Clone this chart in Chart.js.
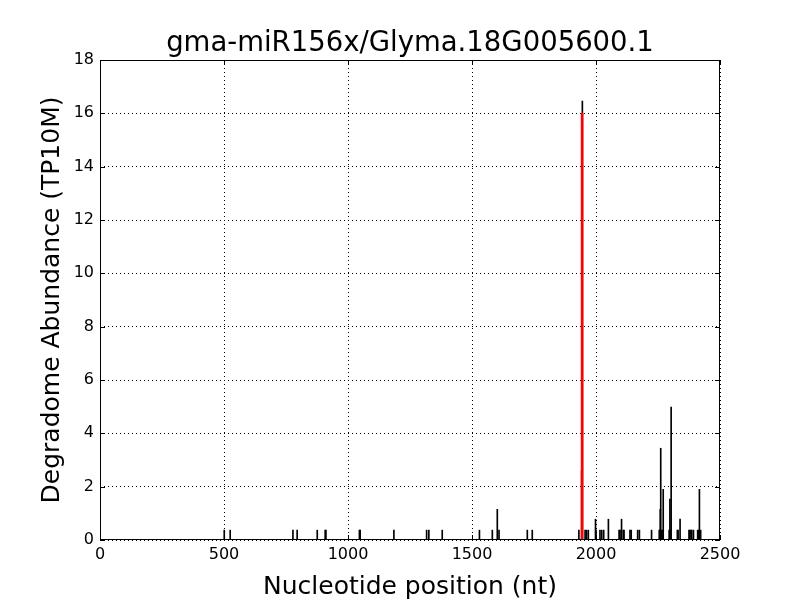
<!DOCTYPE html>
<html>
<head>
<meta charset="utf-8">
<script src="https://cdn.jsdelivr.net/npm/chart.js@4.4.1/dist/chart.umd.min.js"></script>
<style>
html,body{margin:0;padding:0;background:#fff;}
#wrap{width:800px;height:600px;}
</style>
</head>
<body>
<div id="wrap"><canvas id="c" width="800" height="600"></canvas></div>
<script>
// ---- data ----
const chartTitle = "gma-miR156x/Glyma.18G005600.1";
const xTitle = "Nucleotide position (nt)";
const yTitle = "Degradome Abundance (TP10M)";
const xTicks = [0, 500, 1000, 1500, 2000, 2500];
const yTicks = [0, 2, 4, 6, 8, 10, 12, 14, 16, 18];

// degradome reads (black)
const positions = [501, 525, 778, 795, 876, 908, 911, 1046, 1049, 1185, 1317, 1326, 1380, 1530, 1582, 1602, 1609, 1723, 1743,
  1931, 1942, 1945, 1956, 1962, 1969, 1998, 2000, 2016, 2023, 2031, 2050, 2093, 2097, 2103, 2110, 2113, 2137, 2142, 2168, 2175,
  2224, 2255, 2258, 2259, 2261, 2264, 2267, 2271, 2295, 2298, 2300, 2303, 2328, 2331, 2339, 2375, 2378, 2383, 2386, 2393,
  2410, 2413, 2417, 2422];
const values = [0.37, 0.37, 0.37, 0.37, 0.37, 0.37, 0.37, 0.37, 0.37, 0.37, 0.37, 0.37, 0.37, 0.37, 0.37, 1.15, 0.37, 0.37, 0.37,
  0.37, 2.6, 16.46, 0.37, 0.37, 0.37, 0.78, 0.37, 0.37, 0.37, 0.37, 0.78, 0.37, 0.37, 0.78, 0.37, 0.37, 0.37, 0.37, 0.37, 0.37,
  0.37, 0.37, 0.37, 1.15, 3.44, 0.37, 0.37, 1.9, 0.37, 1.53, 0.37, 4.98, 0.37, 0.37, 0.78, 0.37, 0.37, 0.37, 0.37, 0.37,
  0.37, 0.37, 1.9, 0.37];

// predicted cleavage site (red)
const sitePositions = [1944];
const siteValues = [16.0];

const FONT = "'DejaVu Sans', sans-serif";

const framePlugin = {
  id: 'frame',
  afterDatasetsDraw(chart) {
    const {ctx, chartArea: a, scales} = chart;
    ctx.save();
    ctx.strokeStyle = '#000';
    ctx.lineWidth = 1;
    ctx.setLineDash([]);
    ctx.strokeRect(Math.round(a.left) + 0.5, Math.round(a.top) + 0.5,
                   Math.round(a.right - a.left) - 1, Math.round(a.bottom - a.top) - 1);
    const L = 5;
    ctx.beginPath();
    xTicks.forEach(v => {
      const x = Math.round(scales.x.getPixelForValue(v)) + 0.5;
      ctx.moveTo(x, a.bottom); ctx.lineTo(x, a.bottom - L);
      ctx.moveTo(x, a.top); ctx.lineTo(x, a.top + L);
    });
    yTicks.forEach(v => {
      const y = Math.round(scales.y.getPixelForValue(v)) + 0.5;
      ctx.moveTo(a.left, y); ctx.lineTo(a.left + L, y);
      ctx.moveTo(a.right, y); ctx.lineTo(a.right - L, y);
    });
    ctx.stroke();
    // title
    ctx.fillStyle = '#000';
    ctx.font = "27.5px " + FONT;
    ctx.textAlign = 'center';
    ctx.textBaseline = 'middle';
    ctx.fillText(chartTitle, (a.left + a.right) / 2, 44);
    ctx.restore();
  }
};

new Chart(document.getElementById('c'), {
  type: 'bar',
  data: {
    datasets: [
      {
        label: 'reads',
        data: positions.map((p, i) => ({x: p, y: values[i]})),
        backgroundColor: '#000',
        borderWidth: 0,
        barThickness: 1,
        order: 2
      },
      {
        label: 'site',
        data: sitePositions.map((p, i) => ({x: p, y: siteValues[i]})),
        backgroundColor: '#ff0000',
        borderWidth: 0,
        barThickness: 2,
        order: 1
      }
    ]
  },
  options: {
    responsive: false,
    animation: false,
    devicePixelRatio: 1,
    layout: {padding: {left: 0, right: 80, top: 60, bottom: 0}},
    plugins: {legend: {display: false}, tooltip: {enabled: false}, title: {display: false}},
    datasets: {bar: {grouped: false}},
    scales: {
      x: {
        type: 'linear',
        min: 0, max: 2500,
        offset: false,
        afterFit(s) { s.height = 60; },
        afterBuildTicks(s) { s.ticks = xTicks.map(v => ({value: v})); },
        ticks: {color: '#000', font: {family: FONT, size: 16}, padding: 5, maxRotation: 0, callback: v => String(v)},
        grid: {offset: false, color: '#000', lineWidth: 1, drawTicks: false},
        border: {display: false, dash: [1, 3]},
        title: {display: true, text: xTitle, color: '#000', font: {family: FONT, size: 25, lineHeight: 1}, padding: {top: 14, bottom: 0}}
      },
      y: {
        type: 'linear',
        min: 0, max: 18,
        afterFit(s) { s.width = 100; },
        afterBuildTicks(s) { s.ticks = yTicks.map(v => ({value: v})); },
        ticks: {color: '#000', font: {family: FONT, size: 16}, padding: 6, callback: v => String(v)},
        grid: {color: '#000', lineWidth: 1, drawTicks: false},
        border: {display: false, dash: [1, 3]},
        title: {display: true, text: yTitle, color: '#000', font: {family: FONT, size: 25, lineHeight: 1}, padding: {top: 40, bottom: 0}}
      }
    }
  },
  plugins: [framePlugin]
});
</script>
</body>
</html>
